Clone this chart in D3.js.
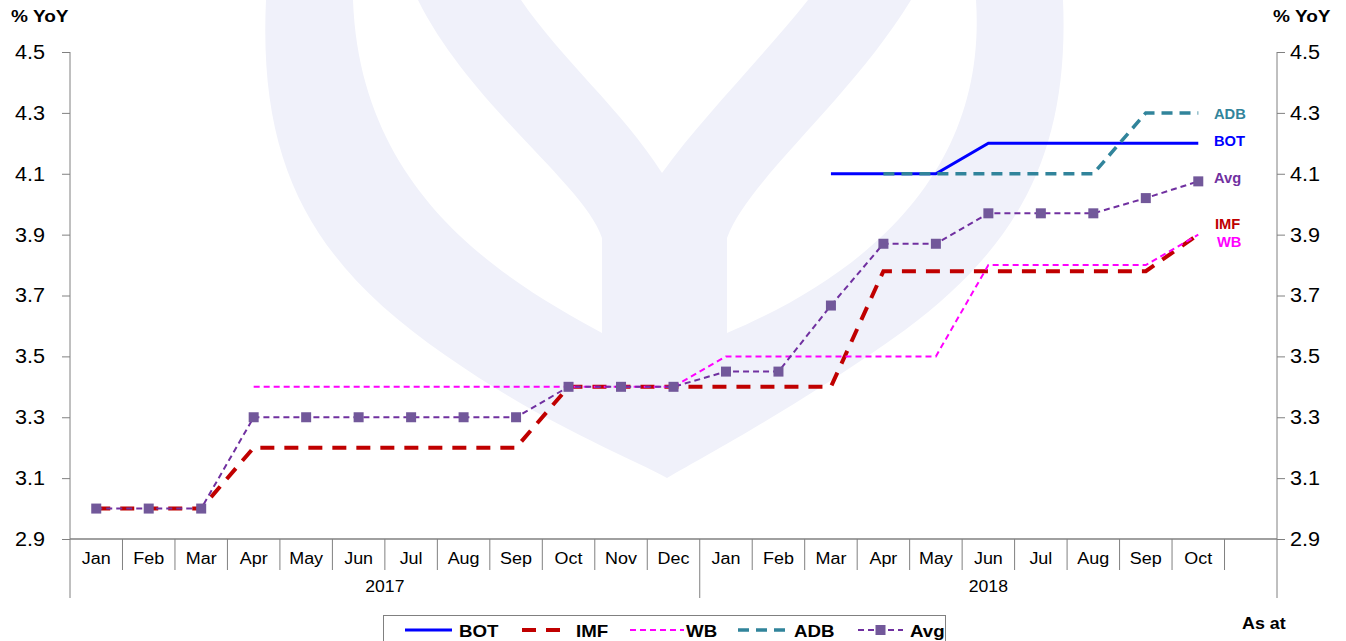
<!DOCTYPE html>
<html><head><meta charset="utf-8">
<script src="https://cdn.jsdelivr.net/npm/d3@7"></script>
<style>body{margin:0;background:#fff}svg{display:block;font-family:"Liberation Sans",Arial,sans-serif}</style>
</head><body><svg id="c" width="1346" height="641"></svg>
<script>
const months = ["Jan","Feb","Mar","Apr","May","Jun","Jul","Aug","Sep","Oct","Nov","Dec",
                "Jan","Feb","Mar","Apr","May","Jun","Jul","Aug","Sep","Oct",""];
const years = ["2017","2018"];
const yearSpans = [12, 11];
const yTicks = [2.9,3.1,3.3,3.5,3.7,3.9,4.1,4.3,4.5];
const seriesNames = ["BOT","IMF","WB","ADB","Avg"];
const BOT = [null,null,null,null,null,null,null,null,null,null,null,null,
             null,null,4.1,4.1,4.1,4.2,4.2,4.2,4.2,4.2,null];
const IMF = [3.0,3.0,3.0,3.2,3.2,3.2,3.2,3.2,3.2,3.4,3.4,3.4,
             3.4,3.4,3.4,3.78,3.78,3.78,3.78,3.78,3.78,3.9,null];
const WB  = [null,null,null,3.4,3.4,3.4,3.4,3.4,3.4,3.4,3.4,3.4,
             3.5,3.5,3.5,3.5,3.5,3.8,3.8,3.8,3.8,3.9,null];
const ADB = [null,null,null,null,null,null,null,null,null,null,null,null,
             null,null,null,4.1,4.1,4.1,4.1,4.1,4.3,4.3,null];
const Avg = [3.0,3.0,3.0,3.3,3.3,3.3,3.3,3.3,3.3,3.4,3.4,3.4,
             3.45,3.45,3.667,3.87,3.87,3.97,3.97,3.97,4.02,4.075,null];

const svg = d3.select("#c");
const L = 70, R = 1277, T = 52, B = 539;
const idx = months.map((m,i)=>i);
const x = d3.scaleBand().domain(idx).range([L,R]).padding(0);
const y = d3.scaleLinear().domain([2.9,4.5]).range([B,T]);
const cx = i => x(i) + x.bandwidth()/2;

// horizontal stretch helper (reference text is slightly wide)
function stretch(sel, f){
  sel.each(function(){
    const w = this.getComputedTextLength();
    if (w > 0) d3.select(this).attr("textLength", w*f).attr("lengthAdjust","spacingAndGlyphs");
  });
}

// watermark
const wm = svg.append("g");
wm.append("path").attr("fill","#f0f1fa")
  .attr("d","M266,0 C258,170 315,265 445,355 C545,425 625,455 667,478 C712,452 800,405 905,330 C1012,250 1070,160 1063,0 Z");
wm.append("path").attr("fill","#fff")
  .attr("d","M353,0 L418,0 C470,105 585,185 602,238 L602,333 C515,285 360,200 353,0 Z");
wm.append("path").attr("fill","#fff")
  .attr("d","M911,0 L976,0 C986,150 895,262 727,333 L727,238 C748,180 850,100 911,0 Z");
wm.append("path").attr("fill","#fff")
  .attr("d","M521,0 L808,0 C760,60 700,120 662,173 C622,110 562,60 521,0 Z");

// axes
const axL = d3.axisLeft(y).tickValues(yTicks).tickFormat(d3.format(".1f")).tickSize(8).tickPadding(17);
const axR = d3.axisRight(y).tickValues(yTicks).tickFormat(d3.format(".1f")).tickSize(8).tickPadding(5);
const gL = svg.append("g").attr("transform",`translate(${L},0)`).call(axL);
const gR = svg.append("g").attr("transform",`translate(${R},0)`).call(axR);
[gL,gR].forEach(g=>{
  g.select(".domain").remove();
  g.selectAll("line").attr("stroke","#808080");
  g.selectAll("text").attr("font-size",20).attr("fill","#000").call(stretch,1.08);
});
const axisC = "#808080";
svg.append("line").attr("x1",L).attr("x2",L).attr("y1",T).attr("y2",598).attr("stroke",axisC);
svg.append("line").attr("x1",R).attr("x2",R).attr("y1",T).attr("y2",598).attr("stroke",axisC);
svg.append("line").attr("x1",L).attr("x2",R).attr("y1",B).attr("y2",B).attr("stroke",axisC).attr("stroke-width",1.5);

// month dividers & labels
idx.slice(1).forEach(i=>{
  const isYear = i === yearSpans[0];
  svg.append("line").attr("x1",x(i)).attr("x2",x(i)).attr("y1",B).attr("y2",isYear?598:570)
    .attr("stroke",axisC);
});
svg.append("g").selectAll("text").data(idx).join("text")
  .attr("x",i=>cx(i)).attr("y",564).attr("text-anchor","middle")
  .attr("font-size",16).text(i=>months[i]).call(stretch,1.12);
let start = 0;
years.forEach((yr,k)=>{
  const a = x(start), b = x(start+yearSpans[k]-1)+x.bandwidth();
  const bb = k===years.length-1 ? R : b;
  svg.append("text").attr("x",(a+bb)/2).attr("y",592).attr("text-anchor","middle")
    .attr("font-size",16).text(yr).call(stretch,1.1);
  start += yearSpans[k];
});

// series
const styles = {
  BOT:{color:"#0000ff",w:3,dash:null},
  IMF:{color:"#c00000",w:4,dash:"14,10"},
  WB:{color:"#ff00ff",w:2,dash:"6,4"},
  ADB:{color:"#31849b",w:3.5,dash:"11,7"},
  Avg:{color:"#7030a0",w:2,dash:"6,4"}
};
const data = {BOT,IMF,WB,ADB,Avg};
const line = d3.line().defined(d=>d.v!=null).x(d=>cx(d.i)).y(d=>y(d.v));
seriesNames.forEach(n=>{
  const s = styles[n];
  svg.append("path").datum(data[n].map((v,i)=>({v,i})))
    .attr("d",line).attr("fill","none").attr("stroke",s.color)
    .attr("stroke-width",s.w).attr("stroke-dasharray",s.dash);
});
svg.append("g").selectAll("rect").data(Avg.map((v,i)=>({v,i})).filter(d=>d.v!=null)).join("rect")
  .attr("x",d=>cx(d.i)-5).attr("y",d=>y(d.v)-5).attr("width",10).attr("height",10)
  .attr("fill","#72589a");

// end labels
const endLabels = [
  {t:"ADB",c:"#31849b",y:114,x:1214},
  {t:"BOT",c:"#0000ff",y:141,x:1214},
  {t:"Avg",c:"#7030a0",y:178,x:1214},
  {t:"IMF",c:"#c00000",y:224,x:1215},
  {t:"WB",c:"#ff00ff",y:242,x:1217}
];
svg.append("g").selectAll("text").data(endLabels).join("text")
  .attr("x",d=>d.x).attr("y",d=>d.y+5).attr("fill",d=>d.c)
  .attr("font-size",14).attr("font-weight","bold").text(d=>d.t).call(stretch,1.05);

// titles
svg.append("text").attr("x",11).attr("y",22).attr("font-size",17).attr("font-weight","bold").text("% YoY").call(stretch,1.12);
svg.append("text").attr("x",1273).attr("y",22).attr("font-size",17).attr("font-weight","bold").text("% YoY").call(stretch,1.12);
svg.append("text").attr("x",1242).attr("y",629).attr("font-size",17).attr("font-weight","bold").text("As at").call(stretch,1.05);

// legend
svg.append("rect").attr("x",383.5).attr("y",615.5).attr("width",562).attr("height",40)
  .attr("fill","#fff").attr("stroke","#808080");
const legPos = [{n:"BOT",x1:405,x2:452,tx:459},{n:"IMF",x1:522,x2:566,tx:576},
                {n:"WB",x1:630,x2:684,tx:686},{n:"ADB",x1:738,x2:785,tx:794},
                {n:"Avg",x1:858,x2:903,tx:910}];
legPos.forEach(p=>{
  const s = styles[p.n];
  svg.append("line").attr("x1",p.x1).attr("x2",p.x2).attr("y1",630).attr("y2",630)
    .attr("stroke",s.color).attr("stroke-width",s.w).attr("stroke-dasharray",s.dash);
  if(p.n==="Avg") svg.append("rect").attr("x",(p.x1+p.x2)/2-5).attr("y",625).attr("width",10).attr("height",10).attr("fill","#72589a");
  svg.append("text").attr("x",p.tx).attr("y",637).attr("font-size",17).attr("font-weight","bold").text(p.n).call(stretch,1.1);
});
</script></body></html>
